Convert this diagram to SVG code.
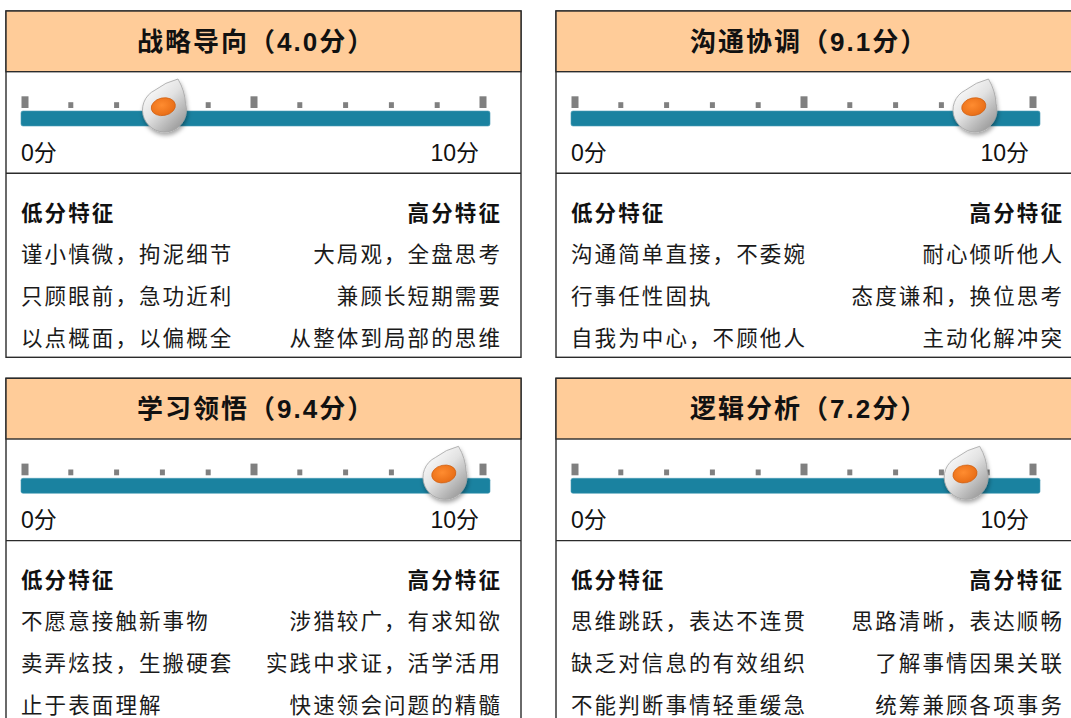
<svg xmlns="http://www.w3.org/2000/svg" xmlns:xlink="http://www.w3.org/1999/xlink" width="1071" height="718" viewBox="0 0 1071 718">
<style>
.frame{fill:#fff;stroke:#2b2b2b;stroke-width:1.4}
.head{fill:#FFCC99;stroke:#2b2b2b;stroke-width:1.4}
.sep{stroke:#2b2b2b;stroke-width:1.4}
.bar{fill:#1A82A0;stroke:#4a9cb6;stroke-width:0.6}
.tb{fill:#808080}
.title{font-family:"Liberation Sans","Noto Sans CJK SC",sans-serif;font-size:26px;font-weight:bold;fill:#111;letter-spacing:2px}
.scale{font-family:"Liberation Sans","Noto Sans CJK SC",sans-serif;font-size:23px;fill:#111}
.h{font-family:"Liberation Sans","Noto Sans CJK SC",sans-serif;font-size:21.5px;font-weight:bold;fill:#111;letter-spacing:2.1px}
.t{font-family:"Liberation Sans","Noto Sans CJK SC",sans-serif;font-size:21.5px;fill:#1a1a1a;letter-spacing:2.1px}
.r{text-anchor:end}
</style>
<defs>
<linearGradient id="kg" x1="0.15" y1="0.05" x2="0.9" y2="0.95">
<stop offset="0" stop-color="#ffffff"/>
<stop offset="0.45" stop-color="#e2e2e2"/>
<stop offset="1" stop-color="#959595"/>
</linearGradient>
<radialGradient id="og" cx="0.45" cy="0.4" r="0.6">
<stop offset="0" stop-color="#ff8c30"/>
<stop offset="1" stop-color="#e86d16"/>
</radialGradient>
<filter id="sh" x="-40%" y="-40%" width="180%" height="180%">
<feDropShadow dx="1" dy="3" stdDeviation="2" flood-color="#000" flood-opacity="0.35"/>
</filter>
<g id="ticks">
<rect class="tb" x="21.5" y="96.3" width="7" height="11.7"/>
<rect class="tb" x="68.3" y="102.2" width="5" height="5.8"/>
<rect class="tb" x="114.1" y="102.2" width="5" height="5.8"/>
<rect class="tb" x="159.9" y="102.2" width="5" height="5.8"/>
<rect class="tb" x="205.7" y="102.2" width="5" height="5.8"/>
<rect class="tb" x="250.5" y="96.3" width="7" height="11.7"/>
<rect class="tb" x="297.3" y="102.2" width="5" height="5.8"/>
<rect class="tb" x="343.1" y="102.2" width="5" height="5.8"/>
<rect class="tb" x="388.9" y="102.2" width="5" height="5.8"/>
<rect class="tb" x="434.7" y="102.2" width="5" height="5.8"/>
<rect class="tb" x="479.5" y="96.3" width="7" height="11.7"/>
<rect class="bar" x="21" y="111" width="469" height="15" rx="2"/>
</g>
<g id="knob">
<path d="M13.5,-31 Q20.5,-19 21,-6.5 A22,22 0 1 1 -9.6,-19.8 Q1,-28 13.5,-31 Z" fill="url(#kg)" stroke="#a3a3a3" stroke-width="0.8" filter="url(#sh)"/>
<ellipse cx="-1.2" cy="-3.3" rx="12.2" ry="8.8" transform="rotate(-12 -1.2 -3.3)" fill="url(#og)" stroke="#cf5f12" stroke-width="0.7"/>
</g>
</defs>

<g id="panel-strategy">
<rect class="frame" x="6" y="11" width="515" height="346.3"/>
<rect class="head" x="6" y="11" width="515" height="60.7"/>
<line class="sep" x1="6" y1="173.3" x2="521" y2="173.3"/>
<use xlink:href="#ticks"/>
<use xlink:href="#knob" x="164.5" y="110"/>
<text class="title" x="137" y="51">战略导向（4.0分）</text>
<text class="scale" x="21" y="161">0分</text>
<text class="scale r" x="479" y="161">10分</text>
<text class="h" x="21" y="220.5">低分特征</text>
<text class="h r" x="502" y="220.5">高分特征</text>
<text class="t" x="21" y="262">谨小慎微，拘泥细节</text>
<text class="t r" x="502" y="262">大局观，全盘思考</text>
<text class="t" x="21" y="304">只顾眼前，急功近利</text>
<text class="t r" x="502" y="304">兼顾长短期需要</text>
<text class="t" x="21" y="346">以点概面，以偏概全</text>
<text class="t r" x="502" y="346">从整体到局部的思维</text>
</g>

<g id="panel-communication" transform="translate(550,0)">
<rect class="frame" x="6" y="11" width="540" height="346.3"/>
<rect class="head" x="6" y="11" width="540" height="60.7"/>
<line class="sep" x1="6" y1="173.3" x2="546" y2="173.3"/>
<use xlink:href="#ticks"/>
<use xlink:href="#knob" x="425" y="110"/>
<text class="title" x="140" y="51">沟通协调（9.1分）</text>
<text class="scale" x="21" y="161">0分</text>
<text class="scale r" x="479" y="161">10分</text>
<text class="h" x="21" y="220.5">低分特征</text>
<text class="h r" x="514" y="220.5">高分特征</text>
<text class="t" x="21" y="262">沟通简单直接，不委婉</text>
<text class="t r" x="514" y="262">耐心倾听他人</text>
<text class="t" x="21" y="304">行事任性固执</text>
<text class="t r" x="514" y="304">态度谦和，换位思考</text>
<text class="t" x="21" y="346">自我为中心，不顾他人</text>
<text class="t r" x="514" y="346">主动化解冲突</text>
</g>

<g id="panel-learning" transform="translate(0,367.3)">
<rect class="frame" x="6" y="11" width="515" height="400"/>
<rect class="head" x="6" y="11" width="515" height="60.7"/>
<line class="sep" x1="6" y1="173.3" x2="521" y2="173.3"/>
<use xlink:href="#ticks"/>
<use xlink:href="#knob" x="445" y="110"/>
<text class="title" x="137" y="51">学习领悟（9.4分）</text>
<text class="scale" x="21" y="161">0分</text>
<text class="scale r" x="479" y="161">10分</text>
<text class="h" x="21" y="220.5">低分特征</text>
<text class="h r" x="502" y="220.5">高分特征</text>
<text class="t" x="21" y="262">不愿意接触新事物</text>
<text class="t r" x="502" y="262">涉猎较广，有求知欲</text>
<text class="t" x="21" y="304">卖弄炫技，生搬硬套</text>
<text class="t r" x="502" y="304">实践中求证，活学活用</text>
<text class="t" x="21" y="346">止于表面理解</text>
<text class="t r" x="502" y="346">快速领会问题的精髓</text>
</g>

<g id="panel-logic" transform="translate(550,367.3)">
<rect class="frame" x="6" y="11" width="540" height="400"/>
<rect class="head" x="6" y="11" width="540" height="60.7"/>
<line class="sep" x1="6" y1="173.3" x2="546" y2="173.3"/>
<use xlink:href="#ticks"/>
<use xlink:href="#knob" x="416.2" y="110"/>
<text class="title" x="140" y="51">逻辑分析（7.2分）</text>
<text class="scale" x="21" y="161">0分</text>
<text class="scale r" x="479" y="161">10分</text>
<text class="h" x="21" y="220.5">低分特征</text>
<text class="h r" x="514" y="220.5">高分特征</text>
<text class="t" x="21" y="262">思维跳跃，表达不连贯</text>
<text class="t r" x="514" y="262">思路清晰，表达顺畅</text>
<text class="t" x="21" y="304">缺乏对信息的有效组织</text>
<text class="t r" x="514" y="304">了解事情因果关联</text>
<text class="t" x="21" y="346">不能判断事情轻重缓急</text>
<text class="t r" x="514" y="346">统筹兼顾各项事务</text>
</g>

<g id="connectors"></g>
</svg>
